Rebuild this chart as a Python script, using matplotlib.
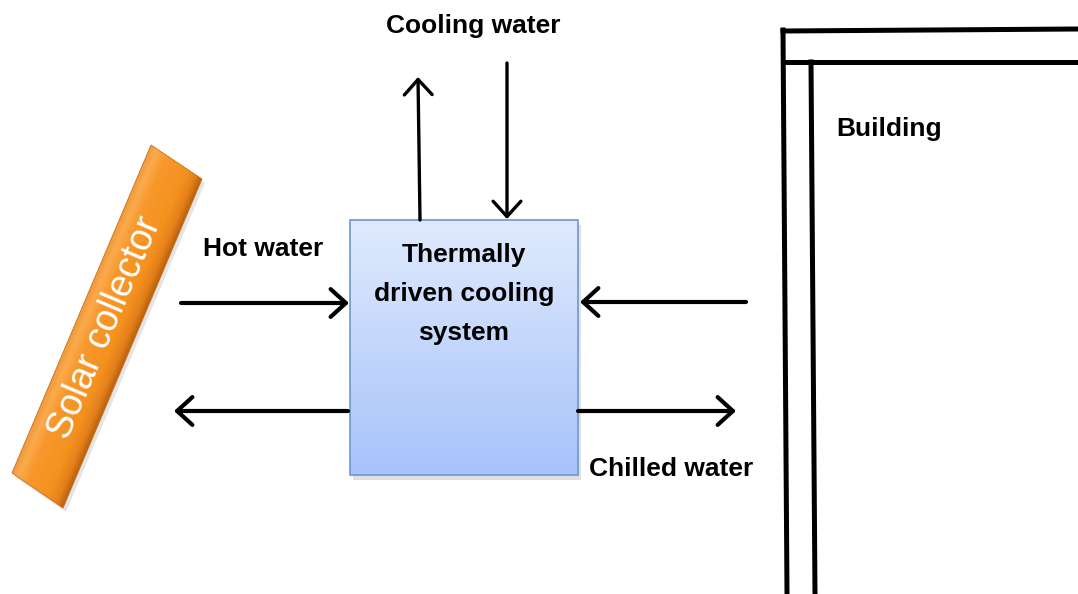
import matplotlib.pyplot as plt
import numpy as np
from matplotlib.patches import Polygon, Rectangle, FancyArrowPatch
from matplotlib.colors import LinearSegmentedColormap

# diagram layout in pixel units (x right, y down)
collector_corners = [(151, 145), (202, 179), (63, 508), (12, 473)]
box = (350, 220, 578, 475)  # left, top, right, bottom
box_text = 'Thermally\ndriven cooling\nsystem'

# arrows: (x_start, y_start, x_end, y_end), head at end
arrows = [(181, 303, 349, 303),
          (348, 411, 174, 411),
          (746, 302, 580, 302),
          (578, 411, 736, 411),
          (420, 220, 418, 77),
          (507, 63, 507, 219)]
arrow_widths = [3.0, 3.0, 3.0, 3.0, 2.4, 2.4]

labels = ['Cooling water', 'Hot water', 'Building', 'Chilled water']
label_pos = [(473, 26), (263, 249), (889, 129), (671, 469)]

# building walls: (x0, y0, x1, y1)
walls = [(783, 30, 787, 594),
         (783, 31, 1078, 29),
         (783, 62, 1078, 62),
         (811, 62, 815, 594)]

bold = ['Liberation Sans Narrow', 'Arial Narrow', 'Liberation Sans', 'DejaVu Sans']
lab_size = 19

fig = plt.figure(figsize=(10.78, 5.94), dpi=100)
ax = fig.add_axes([0, 0, 1, 1])
ax.set_xlim(0, 1078)
ax.set_ylim(594, 0)
ax.axis('off')

# solar collector with gradient across its width
P = np.array(collector_corners, dtype=float)
along = P[3] - P[0]
nrm = np.array([-along[1], along[0]])
nrm /= np.hypot(*nrm)
if np.dot(P[1] - P[0], nrm) < 0:
    nrm = -nrm
width = np.dot(P[1] - P[0], nrm)
xs = np.arange(0, 220)
ys = np.arange(130, 520)
X, Y = np.meshgrid(xs, ys)
t = ((X - P[0, 0]) * nrm[0] + (Y - P[0, 1]) * nrm[1]) / width
cmap = LinearSegmentedColormap.from_list('orange', [
    (0.0, '#F09A3C'), (0.12, '#FBAA4C'), (0.3, '#F8982C'),
    (0.7, '#F4921F'), (0.88, '#E5801A'), (1.0, '#B9620F')])
im = ax.imshow(np.clip(t, 0, 1), cmap=cmap, vmin=0, vmax=1,
               extent=[xs[0], xs[-1], ys[-1], ys[0]], aspect='auto', zorder=2)
shadow = Polygon(P + [3, 4], closed=True, facecolor='#999999', alpha=0.25,
                 edgecolor='none', zorder=1)
ax.add_patch(shadow)
poly = Polygon(P, closed=True, facecolor='none', edgecolor='#C8701C', lw=0.6, zorder=3)
ax.add_patch(poly)
im.set_clip_path(poly)
c = P.mean(axis=0)
ax.text(c[0] - 2, c[1] + 2, 'Solar collector', rotation=67, rotation_mode='anchor',
        ha='center', va='center', color='white', fontsize=27,
        family=['Liberation Sans', 'DejaVu Sans'], zorder=4)

# central box with vertical gradient
l, tp, r, b = box
ax.add_patch(Rectangle((l + 3, tp + 5), r - l, b - tp, facecolor='#999999',
                       alpha=0.3, edgecolor='none', zorder=1))
grad = np.linspace(0, 1, 256).reshape(-1, 1)
bcmap = LinearSegmentedColormap.from_list('blue', ['#E0EAFD', '#A6C3FA'])
ax.imshow(grad, cmap=bcmap, extent=[l, r, b, tp], aspect='auto', zorder=2)
ax.add_patch(Rectangle((l, tp), r - l, b - tp, facecolor='none',
                       edgecolor='#6F96D2', lw=1.2, zorder=3))
ax.text((l + r) / 2, 294, box_text, ha='center', va='center', fontsize=lab_size,
        fontweight='bold', family=bold, linespacing=1.8, zorder=4)

# arrows
for (x0, y0, x1, y1), w in zip(arrows, arrow_widths):
    ax.add_patch(FancyArrowPatch((x0, y0), (x1, y1),
                                 arrowstyle='->,head_length=0.55,head_width=0.5',
                                 mutation_scale=20, lw=w, color='black',
                                 shrinkA=0, shrinkB=0, zorder=5))

# building
for x0, y0, x1, y1 in walls:
    ax.plot([x0, x1], [y0, y1], color='black', lw=3.6, solid_capstyle='projecting', zorder=3)

for s, (x, y) in zip(labels, label_pos):
    ax.text(x, y, s, ha='center', va='center', fontsize=lab_size, fontweight='bold',
            family=bold, zorder=4)

fig.savefig('out.png', dpi=100)
